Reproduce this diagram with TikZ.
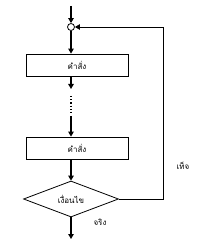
\documentclass[tikz,border=0pt]{standalone}
\usepackage{fontspec}
\newfontfamily\thaifont[Script=Thai]{Loma}
\usetikzlibrary{shapes.geometric,arrows.meta}
\begin{document}
\begin{tikzpicture}[x=1pt,y=-1pt,
  flow/.style={line width=1.2pt,-{Triangle[length=5pt,width=5.5pt]}},
  plain/.style={line width=0.8pt},
  box/.style={draw,line width=0.8pt,minimum width=102pt,minimum height=22pt,inner sep=0pt,font=\thaifont\fontsize{8}{9}\selectfont},
  cond/.style={draw,diamond,aspect=2.6,line width=0.8pt,minimum width=95pt,minimum height=36pt,inner sep=0pt,font=\thaifont\fontsize{8}{9}\selectfont},
  lbl/.style={font=\thaifont\fontsize{8}{9}\selectfont}]
\useasboundingbox (0,0) rectangle (200,245);
\coordinate (start) at (71,6);
\node[circle,draw,line width=0.8pt,minimum size=7pt,inner sep=0pt] (join) at (71,27) {};
\node[box] (b1) at (77,65) {คำสั่ง};
\coordinate (d1) at (71,89);
\coordinate (d2) at (71,96);
\coordinate (d3) at (71,113);
\coordinate (d4) at (71,116);
\node[box] (b2) at (77,148) {คำสั่ง};
\node[cond] (c) at (71,199) {เงื่อนไข};
\coordinate (end) at (71,239);
\coordinate (r1) at (163,199);
\coordinate (r2) at (163,27);
\draw[flow] (start) -- (join.north);
\draw[flow] (join.south) -- (join.south |- b1.north);
\draw[flow] (join.south |- b1.south) -- (d1);
\draw[line width=1.2pt,dotted] (d2) -- (d3);
\draw[flow] (d4) -- (d4 |- b2.north);
\draw[flow] (d4 |- b2.south) -- (c.north);
\draw[flow] (c.south) -- (end);
\draw[plain] (c.east) -- (r1) -- (r2);
\draw[plain,-{Triangle[length=5pt,width=5.5pt]}] (r2) -- (join.east);
\node[lbl] (t) at (100,222) {จริง};
\node[lbl] (f) at (183,166) {เท็จ};
\end{tikzpicture}
\end{document}
